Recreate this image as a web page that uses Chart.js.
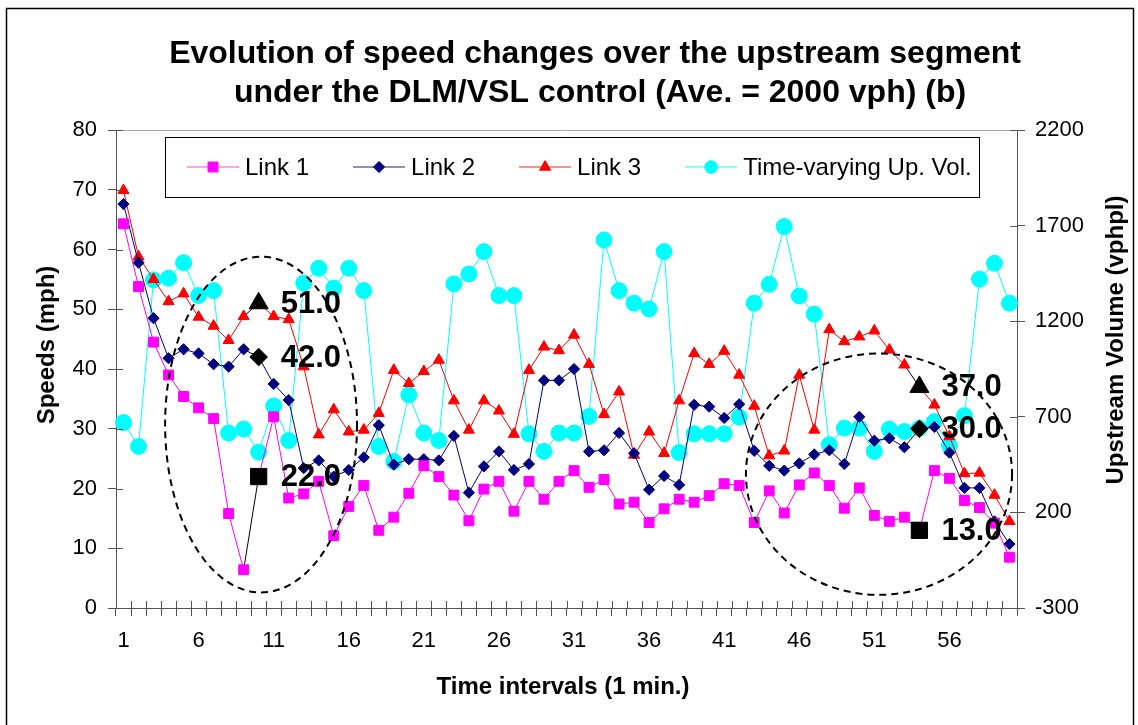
<!DOCTYPE html>
<html>
<head>
<meta charset="utf-8">
<title>Evolution of speed changes over the upstream segment</title>
<script src="https://cdn.jsdelivr.net/npm/chart.js@4.4.1/dist/chart.umd.min.js"></script>
<style>
  html, body { margin: 0; padding: 0; background: #ffffff; }
  canvas { display: block; }
</style>
</head>
<body>
<canvas id="speedChart" width="1138" height="725"></canvas>
<script>
// Time intervals (1 min.)
const intervals = ['1','2','3','4','5','6','7','8','9','10','11','12','13','14','15','16','17','18','19','20',
  '21','22','23','24','25','26','27','28','29','30','31','32','33','34','35','36','37','38','39','40',
  '41','42','43','44','45','46','47','48','49','50','51','52','53','54','55','56','57','58','59','60'];
const shownIntervalLabels = ['1','6','11','16','21','26','31','36','41','46','51','56'];

// Speeds (mph) per link
const link1 = [64.3, 53.8, 44.5, 39.0, 35.4, 33.5, 31.7, 15.8, 6.4, 22.0,
  32.0, 18.4, 19.1, 21.2, 12.1, 17.0, 20.5, 13.0, 15.2, 19.2,
  23.8, 22.0, 18.9, 14.6, 19.9, 21.2, 16.2, 21.2, 18.2, 21.2,
  23.0, 20.2, 21.5, 17.4, 17.7, 14.3, 16.6, 18.2, 17.7, 18.8,
  20.8, 20.5, 14.3, 19.6, 15.9, 20.6, 22.6, 20.5, 16.7, 20.1,
  15.5, 14.5, 15.2, 13.0, 23.0, 21.7, 18.0, 16.8, 14.2, 8.5];
const link2 = [67.6, 57.8, 48.5, 41.8, 43.3, 42.6, 40.8, 40.4, 43.3, 42.0,
  37.5, 34.8, 23.4, 24.7, 22.0, 23.1, 25.2, 30.6, 24.0, 24.9,
  24.9, 24.7, 28.8, 19.3, 23.7, 26.2, 23.1, 24.1, 38.1, 38.1,
  40.0, 26.2, 26.4, 29.3, 25.9, 19.8, 22.1, 20.6, 34.0, 33.7,
  31.8, 34.1, 26.3, 23.8, 23.0, 24.2, 25.7, 26.4, 24.1, 32.0,
  28.0, 28.4, 26.9, 30.0, 30.3, 26.0, 20.1, 20.1, 14.5, 10.7];
const link3 = [69.9, 58.8, 55.0, 51.3, 52.6, 48.7, 47.2, 44.8, 48.8, 51.0,
  48.8, 48.3, 40.4, 29.0, 33.2, 29.5, 29.8, 32.6, 39.8, 37.6,
  39.6, 41.5, 34.7, 29.8, 34.7, 33.0, 29.1, 39.8, 43.7, 43.1,
  45.7, 40.8, 32.4, 36.2, 25.6, 29.5, 25.9, 34.7, 42.6, 40.8,
  43.0, 39.0, 33.8, 25.5, 26.3, 39.0, 29.8, 46.6, 44.6, 45.4,
  46.4, 43.2, 40.7, 37.0, 34.0, 28.7, 22.5, 22.6, 18.9, 14.5];

// Time-varying upstream volume (vphpl)
const upVolume = [670, 545, 1416, 1425, 1506, 1334, 1360, 615, 636, 515,
  757, 576, 1399, 1477, 1373, 1477, 1360, 545, 466, 815,
  615, 576, 1395, 1447, 1564, 1334, 1334, 611, 519, 615,
  615, 702, 1625, 1360, 1294, 1264, 1564, 513, 611, 611,
  611, 698, 1294, 1393, 1695, 1332, 1237, 554, 641, 641,
  519, 636, 623, 640, 675, 550, 706, 1420, 1503, 1294];

// Intervals whose link speeds are called out
const markedIntervals = ['10', '54'];

// Axis tick values
const speedTicks = [0, 10, 20, 30, 40, 50, 60, 70, 80];
const volumeTicks = [-300, 200, 700, 1200, 1700, 2200];

// Dashed ellipses around the called-out intervals (interval, mph, half-widths)
const zones = [
  { cx: 10.16, cy: 30.7, rx: 6.39, ry: 28.1 },
  { cx: 51.31, cy: 22.4, rx: 8.86, ry: 20.2 }
];

const FONT = "'Liberation Sans', Arial, Helvetica, sans-serif";
const AXIS = '#555555';
const markIdx = markedIntervals.map(l => intervals.indexOf(l));
const isMarked = i => markIdx.includes(i);

Chart.defaults.font.family = FONT;

function linkSeries(label, data, color, legendColor, style, r, rBig, order) {
  return {
    label, data, order, yAxisID: 'y',
    borderColor: color, backgroundColor: color, borderWidth: 1,
    pointStyle: style,
    pointRadius: c => isMarked(c.dataIndex) ? rBig : r,
    pointBackgroundColor: c => isMarked(c.dataIndex) ? '#000000' : color,
    pointBorderColor: c => isMarked(c.dataIndex) ? '#000000' : color,
    pointBorderWidth: 1,
    pointHoverRadius: r,
    tension: 0,
    markValues: true,
    legendRadius: r,
    legendLine: legendColor,
    segment: { borderColor: c => isMarked(c.p1DataIndex) ? '#000000' : color }
  };
}

const datasets = [
  linkSeries('Link 1', link1, '#ff00ff', '#ff7fff', 'rect', 7, 11.5, 0),
  linkSeries('Link 2', link2, '#000080', '#6a6aaa', 'rectRot', 5.6, 8.8, 1),
  linkSeries('Link 3', link3, '#ff0000', '#ff6a6a', 'triangle', 6.4, 11, 2),
  {
    label: 'Time-varying Up. Vol.', data: upVolume, order: 3, yAxisID: 'y1',
    borderColor: '#00ffff', backgroundColor: '#00ffff', borderWidth: 1,
    pointStyle: 'circle', pointRadius: 8, pointHoverRadius: 8,
    pointBackgroundColor: '#00ffff', pointBorderColor: '#00ffff', pointBorderWidth: 1,
    legendRadius: 6.3, legendLine: '#5cffff', tension: 0
  }
];

// Frame, titles, legend and the inner half of the cross tick marks
const decorations = {
  id: 'decorations',
  beforeDraw(chart) {
    const { ctx } = chart;
    ctx.save();
    ctx.fillStyle = '#ffffff';
    ctx.fillRect(0, 0, chart.width, chart.height);
    ctx.restore();
  },
  afterDraw(chart) {
    const { ctx, chartArea: a, scales } = chart;
    ctx.save();

    // outer frame
    ctx.strokeStyle = '#000000';
    ctx.lineWidth = 1.5;
    ctx.strokeRect(6.5, 8.5, 1127, 760);

    // top edge of the plot area
    ctx.strokeStyle = '#a6a6a6';
    ctx.lineWidth = 1;
    ctx.beginPath();
    ctx.moveTo(a.left, Math.round(a.top) + 0.5);
    ctx.lineTo(a.right, Math.round(a.top) + 0.5);
    ctx.stroke();

    // inner halves of tick marks
    ctx.strokeStyle = AXIS;
    ctx.beginPath();
    const xs = scales.x;
    for (let k = 0; k <= intervals.length; k++) {
      const px = Math.round(xs.getPixelForValue(k - 0.5)) + 0.5;
      ctx.moveTo(px, a.bottom);
      ctx.lineTo(px, a.bottom - 7);
    }
    scales.y.ticks.forEach(t => {
      const py = Math.round(scales.y.getPixelForValue(t.value)) + 0.5;
      ctx.moveTo(a.left, py);
      ctx.lineTo(a.left + 7, py);
    });
    scales.y1.ticks.forEach(t => {
      const py = Math.round(scales.y1.getPixelForValue(t.value)) + 0.5;
      ctx.moveTo(a.right, py);
      ctx.lineTo(a.right - 7, py);
    });
    ctx.stroke();

    // chart title
    ctx.fillStyle = '#000000';
    ctx.textAlign = 'center';
    ctx.textBaseline = 'alphabetic';
    ctx.font = `bold 32px ${FONT}`;
    ctx.fillText('Evolution of speed changes over the upstream segment', 595, 63);
    ctx.fillText('under the DLM/VSL control (Ave. = 2000 vph) (b)', 600, 102);

    // axis titles
    ctx.font = `bold 24px ${FONT}`;
    ctx.fillText('Time intervals (1 min.)', 563, 694);
    ctx.textBaseline = 'middle';
    ctx.save();
    ctx.translate(47, 345);
    ctx.rotate(-Math.PI / 2);
    ctx.fillText('Speeds (mph)', 0, 0);
    ctx.restore();
    ctx.save();
    ctx.translate(1116, 340);
    ctx.rotate(-Math.PI / 2);
    ctx.fillText('Upstream Volume (vphpl)', 0, 0);
    ctx.restore();

    // legend
    const box = { x: 165, y: 137, w: 814, h: 60 };
    ctx.fillStyle = '#ffffff';
    ctx.fillRect(box.x, box.y, box.w, box.h);
    ctx.strokeStyle = '#000000';
    ctx.lineWidth = 1;
    ctx.strokeRect(box.x + 0.5, box.y + 0.5, box.w, box.h);
    ctx.font = `24px ${FONT}`;
    ctx.textAlign = 'left';
    ctx.textBaseline = 'middle';
    const cy = box.y + 30;
    let x = box.x + 22;
    chart.data.datasets.forEach(ds => {
      ctx.strokeStyle = ds.legendLine;
      ctx.lineWidth = 1.5;
      ctx.beginPath();
      ctx.moveTo(x, cy);
      ctx.lineTo(x + 52, cy);
      ctx.stroke();
      ctx.fillStyle = ds.borderColor;
      ctx.strokeStyle = ds.borderColor;
      ctx.lineWidth = 1;
      Chart.helpers.drawPoint(ctx, { pointStyle: ds.pointStyle, rotation: 0, radius: ds.legendRadius, borderWidth: 1 }, x + 26, cy);
      ctx.fillStyle = '#000000';
      ctx.fillText(ds.label, x + 58, cy + 1);
      x += 58 + ctx.measureText(ds.label).width + 44;
    });

    ctx.restore();
  }
};

// Dashed ellipses and value call-outs on the marked points
const callouts = {
  id: 'callouts',
  afterDatasetsDraw(chart) {
    const { ctx, scales } = chart;
    const xs = scales.x, ys = scales.y;
    ctx.save();
    ctx.strokeStyle = '#000000';
    ctx.lineWidth = 2;
    ctx.setLineDash([7, 5]);
    zones.forEach(z => {
      const cx = xs.getPixelForValue(z.cx - 1);
      const cy = ys.getPixelForValue(z.cy);
      const rx = xs.getPixelForValue(z.cx - 1 + z.rx) - cx;
      const ry = cy - ys.getPixelForValue(z.cy + z.ry);
      ctx.beginPath();
      ctx.ellipse(cx, cy, rx, ry, 0, 0, Math.PI * 2);
      ctx.stroke();
    });
    ctx.setLineDash([]);

    ctx.fillStyle = '#000000';
    ctx.font = `bold 31px ${FONT}`;
    ctx.textAlign = 'left';
    ctx.textBaseline = 'middle';
    chart.data.datasets.forEach((ds, di) => {
      if (!ds.markValues) return;
      const meta = chart.getDatasetMeta(di);
      markIdx.forEach(i => {
        const pt = meta.data[i];
        ctx.fillText(ds.data[i].toFixed(1), pt.x + 22, pt.y + 1);
      });
    });
    ctx.restore();
  }
};

new Chart(document.getElementById('speedChart'), {
  type: 'line',
  data: { labels: intervals, datasets },
  plugins: [decorations, callouts],
  options: {
    responsive: false,
    animation: false,
    devicePixelRatio: 1,
    events: [],
    layout: { padding: { top: 130, left: 0, right: 0, bottom: 0 } },
    plugins: {
      legend: { display: false },
      title: { display: false },
      tooltip: { enabled: false }
    },
    scales: {
      x: {
        type: 'category',
        offset: true,
        grid: { offset: true, drawOnChartArea: false, drawTicks: true, tickLength: 8, color: AXIS },
        border: { display: true, color: AXIS, width: 1 },
        ticks: {
          autoSkip: false, maxRotation: 0, minRotation: 0, padding: 12,
          color: '#000000', font: { size: 22 },
          callback: (v, i) => shownIntervalLabels.includes(intervals[i]) ? intervals[i] : ''
        },
        afterFit: s => { s.height = 725 - 608; }
      },
      y: {
        position: 'left',
        min: 0, max: 80,
        grid: { drawOnChartArea: false, drawTicks: true, tickLength: 8, color: AXIS },
        border: { display: true, color: AXIS, width: 1 },
        ticks: { padding: 11, color: '#000000', font: { size: 22 }, callback: v => String(v) },
        afterBuildTicks: s => { s.ticks = speedTicks.map(v => ({ value: v })); },
        afterFit: s => { s.width = 116; }
      },
      y1: {
        position: 'right',
        min: -300, max: 2200,
        grid: { drawOnChartArea: false, drawTicks: true, tickLength: 8, color: AXIS },
        border: { display: true, color: AXIS, width: 1 },
        ticks: { padding: 10, color: '#000000', font: { size: 22 }, callback: v => String(v) },
        afterBuildTicks: s => { s.ticks = volumeTicks.map(v => ({ value: v })); },
        afterFit: s => { s.width = 1138 - 1017; }
      }
    }
  }
});
</script>
</body>
</html>
